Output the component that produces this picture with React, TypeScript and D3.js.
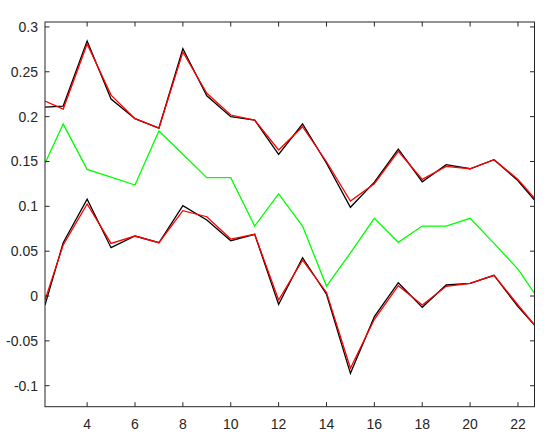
import React from "react";
import * as d3 from "d3";

// x positions of the observations (first and last sit on the axis limits)
const xValues = [2.24, 3, 4, 5, 6, 7, 8, 9, 10, 11, 12, 13, 14, 15, 16, 17, 18, 19, 20, 21, 22, 22.69];

const upperBlack = [0.2107, 0.2118, 0.2843, 0.2196, 0.1977, 0.1873, 0.2757, 0.2233, 0.1999, 0.1962, 0.158, 0.1918, 0.148, 0.0989, 0.127, 0.1639, 0.1274, 0.1464, 0.1419, 0.152, 0.1285, 0.107];
const upperRed = [0.2174, 0.2085, 0.281, 0.224, 0.1977, 0.1873, 0.272, 0.226, 0.2018, 0.1962, 0.1628, 0.1888, 0.1497, 0.1059, 0.125, 0.1613, 0.13, 0.1446, 0.1419, 0.152, 0.13, 0.109];
const green = [0.148, 0.1917, 0.1412, 0.1325, 0.1237, 0.184, 0.158, 0.1319, 0.1319, 0.078, 0.114, 0.078, 0.0111, 0.048, 0.0866, 0.0599, 0.078, 0.078, 0.0866, 0.0587, 0.03, 0.003];
const lowerBlack = [-0.01, 0.0594, 0.108, 0.0539, 0.0669, 0.0594, 0.1007, 0.0847, 0.0617, 0.0688, -0.0093, 0.0427, 0.002, -0.0862, -0.023, 0.0148, -0.0126, 0.0123, 0.0142, 0.0231, -0.0119, -0.0323];
const lowerRed = [-0.0045, 0.0569, 0.1026, 0.0587, 0.0669, 0.0594, 0.0951, 0.0884, 0.0635, 0.0688, -0.0045, 0.04, 0.004, -0.0806, -0.026, 0.0115, -0.01, 0.0108, 0.0142, 0.0231, -0.01, -0.0323];

const xTicks = [4, 6, 8, 10, 12, 14, 16, 18, 20, 22];
const yTicks = [-0.1, -0.05, 0, 0.05, 0.1, 0.15, 0.2, 0.25, 0.3];

const W = 550;
const H = 444;
const left = 45;
const right = 534.5;
const top = 22;
const bottom = 406.7;
const axisColor = "#262626";
const tickLen = 4.5;

export default function App() {
  const x = d3.scaleLinear().domain([2.24, 22.69]).range([left, right]);
  const y = d3.scaleLinear().domain([-0.1234, 0.3055]).range([bottom, top]);

  const line = d3
    .line<number>()
    .x((d, i) => x(xValues[i]))
    .y((d) => y(d));

  const series = [
    { values: green, color: "#00ff00" },
    { values: upperBlack, color: "#000000" },
    { values: lowerBlack, color: "#000000" },
    { values: upperRed, color: "#ff0000" },
    { values: lowerRed, color: "#ff0000" },
  ];

  return (
    <svg
      width={W}
      height={H}
      style={{ position: "absolute", left: 0, top: 0, background: "#fff" }}
      fontFamily="'Liberation Sans', Arial, sans-serif"
    >
      <defs>
        <clipPath id="plot">
          <rect x={left} y={top} width={right - left} height={bottom - top} />
        </clipPath>
      </defs>

      <g clipPath="url(#plot)">
        {series.map((s, i) => (
          <path key={i} d={line(s.values) || ""} fill="none" stroke={s.color} strokeWidth={1.3} strokeLinejoin="miter" />
        ))}
      </g>

      {/* box */}
      <rect x={left} y={top} width={right - left} height={bottom - top} fill="none" stroke={axisColor} strokeWidth={1} />

      {/* x ticks, bottom and top */}
      {xTicks.map((t) => (
        <g key={"x" + t}>
          <line x1={x(t)} x2={x(t)} y1={bottom} y2={bottom - tickLen} stroke={axisColor} />
          <line x1={x(t)} x2={x(t)} y1={top} y2={top + tickLen} stroke={axisColor} />
          <text x={x(t)} y={bottom + 22} textAnchor="middle" fontSize={14} fill={axisColor}>
            {t}
          </text>
        </g>
      ))}

      {/* y ticks, left and right */}
      {yTicks.map((t) => (
        <g key={"y" + t}>
          <line x1={left} x2={left + tickLen} y1={y(t)} y2={y(t)} stroke={axisColor} />
          <line x1={right} x2={right - tickLen} y1={y(t)} y2={y(t)} stroke={axisColor} />
          <text x={left - 7} y={y(t)} dy="0.35em" textAnchor="end" fontSize={14} fill={axisColor}>
            {t}
          </text>
        </g>
      ))}
    </svg>
  );
}
